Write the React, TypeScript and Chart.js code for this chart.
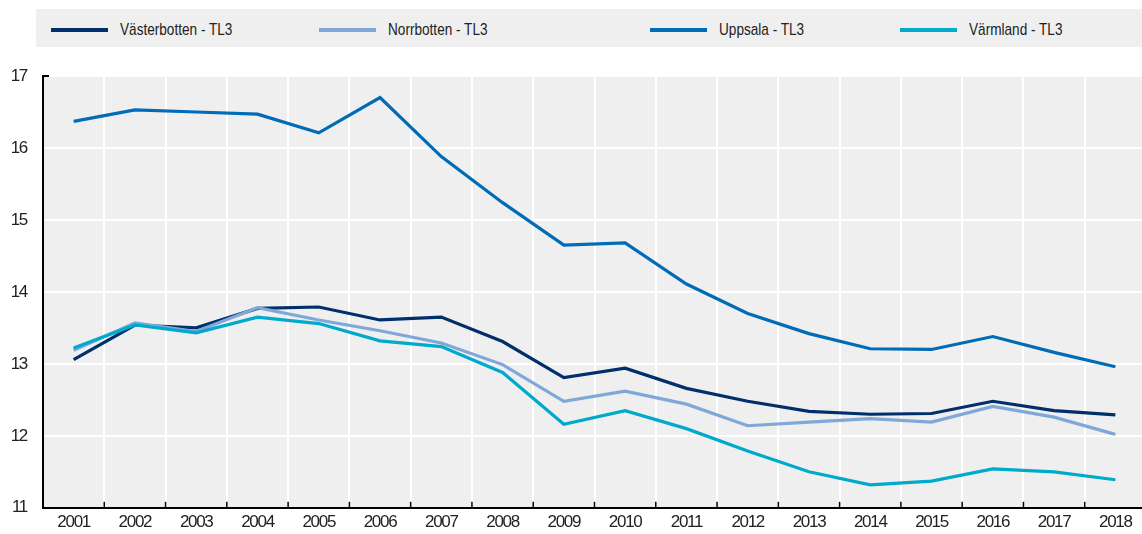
import React, { useEffect, useRef } from "react";
import { Chart, registerables } from "chart.js";

Chart.register(...registerables);

const years = ["2001","2002","2003","2004","2005","2006","2007","2008","2009","2010","2011","2012","2013","2014","2015","2016","2017","2018"];
const vasterbotten = [13.06,13.54,13.50,13.77,13.79,13.61,13.65,13.31,12.81,12.94,12.66,12.48,12.34,12.30,12.31,12.48,12.35,12.29];
const norrbotten = [13.19,13.57,13.45,13.78,13.61,13.46,13.29,12.99,12.48,12.62,12.44,12.14,12.19,12.24,12.19,12.41,12.26,12.02];
const uppsala = [16.37,16.53,16.50,16.47,16.21,16.70,15.88,15.24,14.65,14.68,14.11,13.70,13.42,13.21,13.20,13.38,13.16,12.96];
const varmland = [13.22,13.54,13.43,13.65,13.56,13.32,13.24,12.88,12.16,12.35,12.10,11.79,11.50,11.32,11.37,11.54,11.50,11.39];

const seriesNames = ["Västerbotten - TL3", "Norrbotten - TL3", "Uppsala - TL3", "Värmland - TL3"];
const seriesColors = ["#002f6c", "#7fa8d9", "#006bb6", "#00aacc"];
const seriesData = [vasterbotten, norrbotten, uppsala, varmland];

const legendLineX = [51, 319, 650, 900];
const FONT = "'Liberation Sans', Arial, sans-serif";

const bgPlugin = {
  id: "bgPlugin",
  beforeInit(chart: any) {
    chart.ctx.letterSpacing = "-1.3px";
  },
  beforeDraw(chart: any) {
    const { ctx, chartArea } = chart;
    ctx.letterSpacing = "-1.3px";
    ctx.save();
    ctx.fillStyle = "#efefef";
    ctx.fillRect(chartArea.left, chartArea.top, chartArea.right - chartArea.left, chartArea.bottom - chartArea.top);
    ctx.restore();
  },
  afterDraw(chart: any) {
    const { ctx, chartArea, scales } = chart;
    const x = scales.x;
    const n = years.length;
    ctx.save();
    ctx.strokeStyle = "#000";
    ctx.lineWidth = 1.5;
    for (let i = 1; i < n; i++) {
      const px = (x.getPixelForValue(i - 1) + x.getPixelForValue(i)) / 2;
      ctx.beginPath();
      ctx.moveTo(px, chartArea.bottom);
      ctx.lineTo(px, chartArea.bottom - 6);
      ctx.stroke();
    }
    ctx.lineWidth = 2;
    ctx.beginPath();
    ctx.moveTo(chartArea.left - 1, chartArea.top);
    ctx.lineTo(chartArea.left + 6, chartArea.top);
    ctx.stroke();
    ctx.restore();
  },
};

export default function App() {
  const ref = useRef<HTMLCanvasElement>(null);
  useEffect(() => {
    if (!ref.current) return;
    const chart = new Chart(ref.current, {
      type: "line",
      data: {
        labels: years,
        datasets: seriesData.map((d, i) => ({
          label: seriesNames[i],
          data: d,
          borderColor: seriesColors[i],
          backgroundColor: seriesColors[i],
          borderWidth: 3.2,
          pointRadius: 0,
          tension: 0,
          order: 3 - i,
        })),
      },
      options: {
        responsive: false,
        animation: false,
        layout: { padding: { top: 76, left: 0, right: 0, bottom: 0 } },
        plugins: { legend: { display: false }, tooltip: { enabled: false } },
        scales: {
          x: {
            offset: true,
            grid: { offset: true, color: "#ffffff", lineWidth: 2, drawTicks: false },
            border: { color: "#000", width: 2 },
            ticks: { color: "#222", font: { family: FONT, size: 17 }, padding: 4, maxRotation: 0, autoSkip: false },
            afterFit: (s: any) => { s.height = 24; },
          },
          y: {
            min: 11,
            max: 17,
            ticks: { stepSize: 1, color: "#222", font: { family: FONT, size: 17 }, padding: 16 },
            grid: { color: "#ffffff", lineWidth: 2, drawTicks: false },
            border: { color: "#000", width: 2 },
            afterFit: (s: any) => { s.width = 43; },
          },
        },
      },
      plugins: [bgPlugin],
    });
    return () => chart.destroy();
  }, []);

  return (
    <div style={{ position: "absolute", left: 0, top: 0, width: 1142, height: 534, overflow: "hidden", background: "#fff" }}>
      <canvas ref={ref} width={1146} height={534} style={{ position: "absolute", left: 0, top: 0 }} />
      <div style={{ position: "absolute", left: 36, top: 9, width: 1106, height: 38, background: "#efefef" }} />
      {seriesNames.map((name, i) => (
        <React.Fragment key={name}>
          <div style={{ position: "absolute", left: legendLineX[i], top: 28, width: 57, height: 4, background: seriesColors[i] }} />
          <div style={{ position: "absolute", left: legendLineX[i] + 69, top: 20, fontFamily: FONT, fontSize: 17, color: "#222", lineHeight: "20px", whiteSpace: "nowrap", transform: "scaleX(0.8)", transformOrigin: "0 50%" }}>{name}</div>
        </React.Fragment>
      ))}
    </div>
  );
}
